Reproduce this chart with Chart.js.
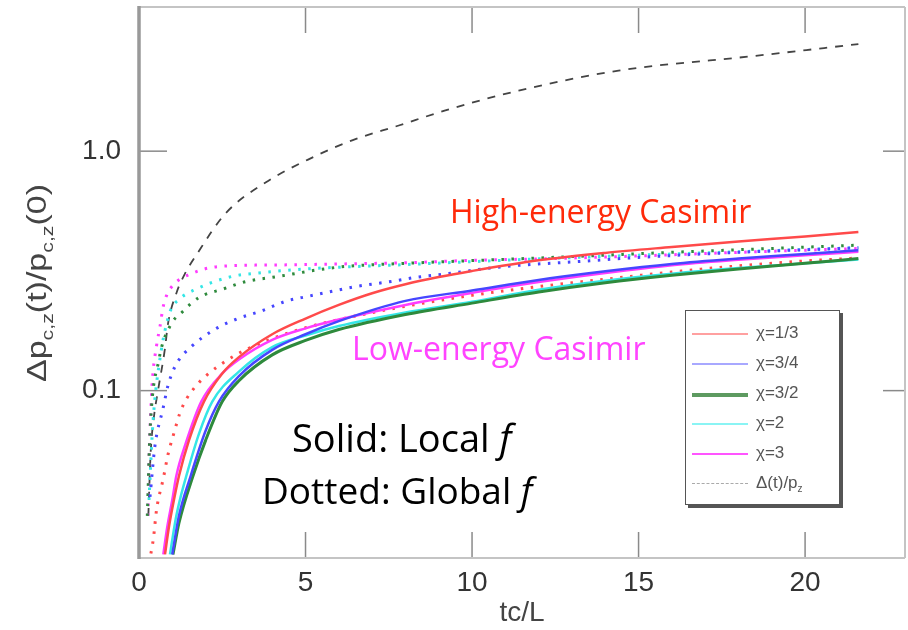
<!DOCTYPE html>
<html>
<head>
<meta charset="utf-8">
<script src="https://cdn.jsdelivr.net/npm/chart.js@4.4.0/dist/chart.umd.min.js"></script>
<style>
html,body{margin:0;padding:0;background:#fff}
#wrap{position:relative;width:908px;height:630px}
#leg{position:absolute;left:685px;top:310px;width:153px;height:193px;border:1px solid #555;background:#fff;box-shadow:3px 3px 0 #555;font-family:"Liberation Sans",Arial,sans-serif;font-size:17px;color:#555}
#leg .it{position:absolute;left:6px;height:20px;width:140px}
#leg .ln{position:absolute;left:0;width:56px;top:10px}
#leg .tx{position:absolute;left:64px;top:0;white-space:nowrap}
</style>
</head>
<body>
<div id="wrap">
  <canvas id="c" width="908" height="630"></canvas>
  <div id="leg"></div>
</div>
<script>
const $=id=>document.getElementById(id);
const FONT='"Liberation Sans", Arial, Helvetica, sans-serif';
const NOTE='"Open Sans", "Noto Sans", sans-serif';

// axes
const X_MIN=0,X_MAX=23,Y_MIN=0.02,Y_MAX=4;
const X_LABELS=[0,5,10,15,20];
const Y_LABELS=[0.1,1];

// legend
const LABELS=["χ=1/3","χ=3/4","χ=3/2","χ=2","χ=3","Δ(t)/p"];
const COLORS=["#ff4a4a","#4646ff","#2e8a3c","#35e6e6","#ff3cff","#444444"];
const LEG_COLORS=["#ffa0a0","#a8a8ff","#5d9a60","#8af4f4","#ff55ff","#aaaaaa"];

// solid: local f
const locRedX=[0.78,0.9,1.05,1.2,1.5,1.95,2.5,3,4,5,6,7,8,9,10,12,14,16,18,20,21.6];
const locRedY=[0.0207,0.027,0.035,0.044,0.062,0.09,0.118,0.138,0.172,0.2,0.228,0.255,0.278,0.298,0.316,0.35,0.376,0.398,0.42,0.44,0.46];
const locBlueX=[1.0,1.2,1.55,2,2.4,3,4,5,6,8,10,12,14,16,18,20,21.6];
const locBlueY=[0.0207,0.03,0.044,0.068,0.09,0.115,0.148,0.172,0.195,0.237,0.262,0.29,0.315,0.338,0.356,0.372,0.386];
const locGreenX=[1.02,1.2,1.62,2,2.5,3,4,5,6,8,10,12,14,16,18,20,21.6];
const locGreenY=[0.0207,0.028,0.044,0.062,0.09,0.11,0.141,0.162,0.18,0.208,0.232,0.258,0.282,0.303,0.322,0.34,0.356];
const locCyanX=[0.93,1.1,1.25,1.42,1.8,2.2,3,4,5,6,8,10,12,14,16,18,20,21.6];
const locCyanY=[0.0207,0.029,0.036,0.044,0.066,0.09,0.12,0.152,0.17,0.186,0.212,0.235,0.264,0.288,0.308,0.325,0.34,0.353];
const locMagX=[0.73,0.85,1.0,1.12,1.4,1.87,2.5,3,4,5,6,8,10,12,14,16,18,20,21.6];
const locMagY=[0.0207,0.027,0.035,0.044,0.06,0.09,0.118,0.135,0.163,0.182,0.198,0.228,0.256,0.284,0.31,0.334,0.352,0.368,0.38];

// dotted: global f
const gloRedX=[0.3,0.43,0.53,0.73,0.87,1.07,1.22,1.42,1.67,1.97,2.87,4,5,6,8,10,12,14,16,18,20,21.6];
const gloRedY=[0.019,0.024,0.032,0.043,0.054,0.068,0.08,0.092,0.103,0.114,0.14,0.165,0.183,0.198,0.225,0.25,0.272,0.292,0.313,0.332,0.348,0.358];
const gloBlueX=[0.33,0.48,0.72,0.87,0.98,1.16,1.6,2.27,2.93,3.67,4.4,5.1,5.8,6.5,7.6,8.3,9.1,11,13.2,15,18,21.6];
const gloBlueY=[0.036,0.059,0.084,0.105,0.117,0.132,0.154,0.18,0.199,0.215,0.236,0.248,0.26,0.272,0.286,0.297,0.306,0.33,0.346,0.36,0.378,0.395];
const gloGreenX=[0.25,0.33,0.6,0.93,1.3,1.8,2.5,3.2,4.2,5.4,6.2,8,12,16,21.6];
const gloGreenY=[0.03,0.067,0.135,0.186,0.213,0.245,0.265,0.285,0.3,0.32,0.33,0.34,0.358,0.378,0.405];
const gloCyanX=[0.3,0.42,0.63,0.93,1.2,1.7,2.8,3.6,5,8,12,16,21.6];
const gloCyanY=[0.035,0.074,0.136,0.213,0.24,0.265,0.3,0.31,0.322,0.336,0.355,0.372,0.395];
const gloMagX=[0.27,0.3,0.35,0.4,0.53,0.63,0.72,0.83,1.07,1.5,2.4,4.3,6,8,10,12,15,18,21.6];
const gloMagY=[0.03,0.05,0.08,0.11,0.155,0.185,0.222,0.25,0.28,0.305,0.33,0.335,0.338,0.342,0.35,0.355,0.365,0.378,0.392];

// dashed: Delta(t)/p
const deltaX=[0.28,0.35,0.45,0.57,0.78,0.87,1.13,1.37,1.73,2.6,3.8,5.2,6.4,7.8,9.2,11.4,14.4,18.5,21.6];
const deltaY=[0.03,0.055,0.078,0.1,0.15,0.19,0.257,0.306,0.37,0.55,0.74,0.94,1.11,1.28,1.48,1.79,2.17,2.5,2.8];

const pts=(xs,ys)=>xs.map((x,i)=>({x,y:ys[i]}));
const solid=(xs,ys,k,w)=>({data:pts(xs,ys),borderColor:COLORS[k],borderWidth:w||2.5,pointRadius:0,cubicInterpolationMode:"monotone"});
const dotted=(xs,ys,k)=>({data:pts(xs,ys),borderColor:COLORS[k],borderWidth:3,borderDash:[2.5,7.5],pointRadius:0,cubicInterpolationMode:"monotone"});

const datasets=[
  solid(locRedX,locRedY,0),solid(locBlueX,locBlueY,1),solid(locGreenX,locGreenY,2,3),
  solid(locCyanX,locCyanY,3),solid(locMagX,locMagY,4),
  dotted(gloRedX,gloRedY,0),dotted(gloBlueX,gloBlueY,1),dotted(gloGreenX,gloGreenY,2),
  dotted(gloCyanX,gloCyanY,3),dotted(gloMagX,gloMagY,4),
  {data:pts(deltaX,deltaY),borderColor:COLORS[5],borderWidth:1.8,borderDash:[8,8],pointRadius:0,cubicInterpolationMode:"monotone"}
];

const isDecade=v=>Math.abs(Math.log10(v)-Math.round(Math.log10(v)))<1e-6;

function seg(ctx,x1,y1,x2,y2){ctx.beginPath();ctx.moveTo(x1,y1);ctx.lineTo(x2,y2);ctx.stroke();}
// no automatic label padding: the plot box is set by layout.padding and afterFit only
function noPad(s){s.paddingTop=0;s.paddingBottom=0;s.paddingLeft=0;s.paddingRight=0;}

const frame={id:"frame",
  beforeDatasetsDraw(c){
    const {ctx,chartArea:a,scales:{x,y}}=c;
    ctx.save();
    ctx.strokeStyle="#8a8a8a";ctx.lineWidth=1.5;
    x.ticks.forEach(t=>{
      const px=x.getPixelForValue(t.value),L=t.value%5===0?26:13;
      seg(ctx,px,a.bottom,px,a.bottom-L);seg(ctx,px,a.top,px,a.top+L);
    });
    y.ticks.forEach(t=>{
      const py=y.getPixelForValue(t.value),m=isDecade(t.value);
      seg(ctx,a.left,py,a.left+(m?28:15),py);seg(ctx,a.right,py,a.right-(m?22:11),py);
    });
    ctx.strokeStyle="#c4c4c4";ctx.lineWidth=2;
    seg(ctx,a.left,a.top,a.right,a.top);seg(ctx,a.right,a.top,a.right,a.bottom);
    seg(ctx,a.left,a.bottom,a.right,a.bottom);
    ctx.strokeStyle="#999";ctx.lineWidth=3.5;
    seg(ctx,a.left,a.top-1,a.left,a.bottom+1);
    ctx.restore();
  },
  afterDraw(c){
    const ctx=c.ctx;
    ctx.save();
    // y title with subscripts
    const parts=[["Δp",0],["c,z",1],["(t)/p",0],["c,z",1],["(0)",0]];
    const fs=27,ss=17;
    let w=0;
    parts.forEach(p=>{ctx.font=(p[1]?ss:fs)+"px "+FONT;w+=ctx.measureText(p[0]).width;});
    ctx.translate(46,283);ctx.rotate(-Math.PI/2);ctx.scale(198/w,1);
    ctx.fillStyle="#444";ctx.textBaseline="alphabetic";
    let cx=-w/2;
    parts.forEach(p=>{
      ctx.font=(p[1]?ss:fs)+"px "+FONT;
      ctx.fillText(p[0],cx,p[1]?7:0);
      cx+=ctx.measureText(p[0]).width;
    });
    ctx.setTransform(1,0,0,1,0,0);
    // notes
    const note=(txt,x,yb,size,col,it)=>{
      ctx.font=size+"px "+NOTE;ctx.fillStyle=col;ctx.fillText(txt,x,yb);
      if(it){const w2=ctx.measureText(txt).width;ctx.font="italic "+size+"px "+NOTE;ctx.fillText(it,x+w2,yb);}
    };
    note("High-energy Casimir",450,223,32,"#ff2a0a");
    note("Low-energy Casimir",352,360,32,"#ff44ff");
    note("Solid: Local ",292,452,38,"#000","f");
    note("Dotted: Global ",262,504,37,"#000","f");
    ctx.restore();
  }
};

new Chart($("c"),{type:"line",data:{datasets},plugins:[frame],
  options:{responsive:false,animation:false,events:[],
    layout:{autoPadding:false,padding:{left:0,right:3,top:7,bottom:0}},
    plugins:{legend:{display:false},tooltip:{enabled:false}},
    scales:{
      x:{type:"linear",min:X_MIN,max:X_MAX,afterFit:s=>{s.height=72;noPad(s)},
        grid:{display:false,drawTicks:false},border:{display:false},
        title:{display:true,text:"tc/L",color:"#444",font:{family:FONT,size:28},padding:{top:0,bottom:0}},
        ticks:{stepSize:1,autoSkip:false,maxRotation:0,padding:8,color:"#333",font:{family:FONT,size:28},
          callback:v=>X_LABELS.includes(v)?String(v):null}},
      y:{type:"logarithmic",min:Y_MIN,max:Y_MAX,afterFit:s=>{s.width=139;noPad(s)},
        grid:{display:false,drawTicks:false},border:{display:false},
        ticks:{autoSkip:false,padding:18,color:"#333",font:{family:FONT,size:28},
          callback:v=>Y_LABELS.some(l=>Math.abs(l-v)<1e-9)?v.toFixed(1):null}}
    }}});

// legend box
const legW=[2,2,4,2,2,1.5];
$("leg").innerHTML=LABELS.map((l,i)=>{
  const st=i===5?"dashed":"solid";
  const txt=i===5?'Δ(t)/p<sub style="font-size:10px">z</sub>':l;
  return `<div class="it" style="top:${12+i*30}px"><div class="ln" style="border-top:${legW[i]}px ${st} ${LEG_COLORS[i]}"></div><div class="tx">${txt}</div></div>`;
}).join("");
</script>
</body>
</html>
